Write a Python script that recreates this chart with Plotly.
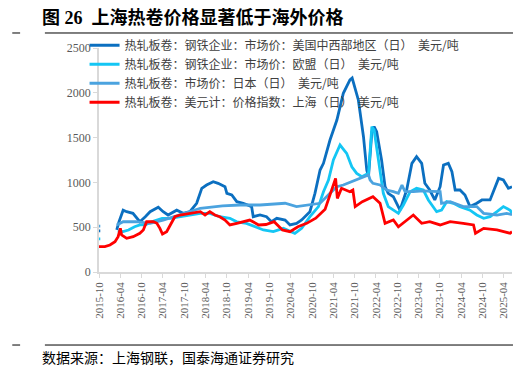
import plotly.graph_objects as go

# ---------------- data ----------------
us_dates = ["2015-10-01","2015-10-12","2015-12-15","2016-03-01","2016-03-20","2016-04-25","2016-05-25","2016-07-18","2016-09-15",
            "2016-11-01","2016-12-12","2017-02-20","2017-04-03","2017-05-15","2017-07-28","2017-09-22",
            "2017-11-18","2018-01-15","2018-02-28","2018-04-10","2018-06-06","2018-07-18","2018-09-15",
            "2018-10-01","2018-11-12","2018-12-25","2019-02-18","2019-05-01","2019-05-15","2019-07-12",
            "2019-09-06","2019-10-18","2019-12-03","2020-02-12","2020-03-25","2020-05-20","2020-07-03",
            "2020-09-12","2020-10-25","2020-12-08","2021-01-06","2021-03-03","2021-05-01","2021-06-25",
            "2021-08-21","2021-09-09","2021-09-18","2021-11-01","2021-12-15","2022-01-12","2022-01-27",
            "2022-02-25","2022-03-16","2022-04-07","2022-05-19","2022-06-18","2022-07-15","2022-08-28",
            "2022-10-24","2022-12-20","2023-02-03","2023-03-15","2023-04-28","2023-05-25","2023-07-06",
            "2023-08-18","2023-10-03","2023-11-01","2023-12-12","2024-01-12","2024-02-09","2024-03-21",
            "2024-05-03","2024-06-15","2024-08-12","2024-09-25","2024-12-04","2025-02-15","2025-03-28",
            "2025-05-10","2025-06-10"]
us_values = [460,460,None,470,560,690,673,655,561,617,673,722,673,636,690,655,673,767,934,971,1008,990,952,
             878,859,785,767,730,617,636,617,561,599,580,525,543,580,673,878,1138,1213,1473,1696,1994,
             2143,2165,2124,1920,1510,1138,1064,1566,1622,1566,1250,952,878,840,690,915,1213,1287,1213,
             990,915,804,952,1194,1213,1119,915,915,859,730,767,804,804,1045,1027,934,952]

eu_dates = ["2015-10-01","2015-10-12","2015-12-15","2016-03-10","2016-04-25","2016-06-10","2016-08-01","2016-09-15","2016-11-01",
            "2016-12-25","2017-02-08","2017-03-25","2017-06-01","2017-08-25","2017-11-18","2018-02-15",
            "2018-05-08","2018-08-01","2018-10-27","2018-12-25","2019-03-18","2019-08-10","2019-11-03",
            "2020-01-28","2020-05-06","2020-07-03","2020-09-12","2020-11-24","2021-01-06","2021-02-18",
            "2021-04-01","2021-05-28","2021-07-24","2021-09-06","2021-10-18","2021-12-01","2022-01-27",
            "2022-02-25","2022-03-16","2022-04-20","2022-06-03","2022-07-15","2022-10-10","2022-11-22",
            "2023-01-19","2023-03-15","2023-05-12","2023-06-24","2023-09-03","2023-10-15","2023-11-28",
            "2024-01-25","2024-03-21","2024-06-15","2024-08-12","2024-10-10","2024-12-04","2025-02-01",
            "2025-03-28","2025-05-25","2025-06-10"]
eu_values = [370,370,None,460,450,469,505,525,525,561,580,599,599,617,636,655,655,617,599,560,543,469,450,
             487,432,487,617,730,896,1027,1250,1417,1324,1175,1101,1064,1101,1622,1585,1250,878,730,
             655,748,896,934,915,804,673,690,785,767,730,690,636,599,617,673,730,690,655]

jp_dates = ["2015-10-01","2015-10-12","2015-12-15","2016-03-01","2016-04-25","2016-08-15","2016-12-12","2017-04-03","2017-08-25",
            "2018-02-15","2018-08-25","2019-01-22","2019-07-12","2020-02-12","2020-05-20","2020-09-12",
            "2020-12-08","2021-03-03","2021-05-01","2021-06-25","2021-09-06","2021-11-01","2021-12-15",
            "2022-01-27","2022-02-10","2022-03-06","2022-05-06","2022-07-01","2022-08-28","2022-10-10",
            "2022-11-10","2022-12-06","2023-02-15","2023-05-12","2023-07-22","2023-10-03","2023-10-15",
            "2023-12-28","2024-04-18","2024-08-12","2024-10-10","2025-02-01","2025-04-25","2025-06-10"]
jp_values = [513,513,None,525,561,561,543,580,636,711,737,748,748,767,730,748,767,878,952,971,1008,1045,1064,
             1083,1027,990,971,915,896,878,971,896,896,905,900,896,767,785,730,730,655,636,655,640]

sh_dates = ["2015-10-01","2015-11-20","2016-01-03","2016-02-15","2016-03-13","2016-04-01","2016-04-12",
            "2016-05-25","2016-07-20","2016-09-15","2016-10-15","2016-11-12","2017-01-10","2017-02-08",
            "2017-03-06","2017-03-28","2017-05-03","2017-06-01","2017-07-12","2017-08-25","2017-10-21",
            "2017-12-18","2018-02-15","2018-03-28","2018-05-08","2018-06-20","2018-08-01","2018-09-15",
            "2018-10-27","2018-12-25","2019-02-18","2019-04-15","2019-07-01","2019-09-01","2019-11-10",
            "2020-01-20","2020-03-25","2020-06-01","2020-08-15","2020-11-01","2021-01-20","2021-04-20",
            "2021-05-05","2021-06-10","2021-08-20","2021-09-15","2021-10-05","2021-12-05","2022-03-06",
            "2022-05-06","2022-06-18","2022-08-28","2022-10-10","2023-02-15","2023-04-28","2023-07-06",
            "2023-10-03","2023-12-28","2024-04-18","2024-07-15","2024-08-01","2024-10-10","2025-02-01",
            "2025-05-25","2025-06-10"]
sh_values = [283,283,301,338,394,487,413,376,394,432,469,561,561,543,487,424,450,525,617,636,647,
             655,673,636,673,636,617,580,525,543,561,580,525,530,561,469,450,505,543,600,700,1045,
             822,934,896,915,730,785,840,767,543,580,505,636,543,561,525,561,543,525,432,487,469,
             432,450]

series_names = [
    "热轧板卷：钢铁企业：市场价：美国中西部地区（日）  美元/吨",
    "热轧板卷：钢铁企业：市场价：欧盟（日）  美元/吨",
    "热轧板卷：市场价：日本（日）  美元/吨",
    "热轧板卷：美元计：价格指数：上海（日）  美元/吨",
]
series_colors = ["#0B6FC0", "#14C6F4", "#4BA3DF", "#FF0000"]

y_tick_values = [0, 500, 1000, 1500, 2000, 2500]
x_tick_values = ["2015-10-01", "2016-04-01", "2016-10-01", "2017-04-01", "2017-10-01", "2018-04-01",
                 "2018-10-01", "2019-04-01", "2019-10-01", "2020-04-01", "2020-10-01", "2021-04-01",
                 "2021-10-01", "2022-04-01", "2022-10-01", "2023-04-01", "2023-10-01", "2024-04-01",
                 "2024-10-01", "2025-04-01"]
x_tick_labels = [d[:7] for d in x_tick_values]

title_text = "<b>图 26  上海热卷价格显著低于海外价格</b>"
source_text = "数据来源：上海钢联，国泰海通证券研究"

# ---------------- figure ----------------
fig = go.Figure()
all_series = [(us_dates, us_values), (eu_dates, eu_values), (jp_dates, jp_values), (sh_dates, sh_values)]
for (d, v), name, color in zip(all_series, series_names, series_colors):
    fig.add_trace(go.Scatter(x=d, y=v, mode="lines", name=name, connectgaps=False,
                             line=dict(color=color, width=2.8)))

serif = "Liberation Serif, Noto Sans CJK SC"
cjk = "Noto Sans CJK SC"

# the page body keeps its default 8px margin, so the figure is 8px smaller than the window
fig.update_layout(
    width=515, height=366,
    margin=dict(l=91, r=11, t=40, b=102, autoexpand=False),
    paper_bgcolor="white", plot_bgcolor="white",
    showlegend=True,
    legend=dict(x=-0.035, y=1.077, xanchor="left", yanchor="top",
                bgcolor="rgba(0,0,0,0)", font=dict(family=cjk, size=12, color="#404040"),
                itemwidth=30, tracegroupgap=0),
    xaxis=dict(range=["2015-10-01", "2025-06-10"], tickmode="array",
               tickvals=x_tick_values, ticktext=x_tick_labels, tickangle=-90,
               showgrid=False, showline=True, linecolor="#D9D9D9", linewidth=1.5,
               ticks="outside", ticklen=4, tickcolor="#D9D9D9", automargin=False,
               tickfont=dict(family=serif, size=11, color="#595959")),
    yaxis=dict(range=[0, 2500], tickmode="array", tickvals=y_tick_values,
               showgrid=False, showline=True, linecolor="#D9D9D9", linewidth=1.5,
               ticks="outside", ticklen=4, tickcolor="#D9D9D9", zeroline=False, automargin=False,
               tickfont=dict(family=serif, size=12, color="#595959")),
)

fig.add_annotation(text=title_text, xref="paper", yref="paper", x=-0.143, y=1.136,
                   xanchor="left", yanchor="middle", showarrow=False,
                   font=dict(family="Liberation Serif, Noto Sans CJK SC", size=18, color="#000000"))
fig.add_annotation(text=source_text, xref="paper", yref="paper", x=-0.143, y=-0.38,
                   xanchor="left", yanchor="middle", showarrow=False,
                   font=dict(family=cjk, size=14, color="#000000"))

for yy in (1.067, -0.326):
    fig.add_shape(type="line", xref="paper", yref="paper", x0=-0.131, x1=1.0024, y0=yy, y1=yy,
                  line=dict(color="#000000", width=1))
    fig.add_shape(type="line", xref="paper", yref="paper", x0=-0.21, x1=-0.191, y0=yy, y1=yy,
                  line=dict(color="#000000", width=1))

fig.write_html("out.html")
